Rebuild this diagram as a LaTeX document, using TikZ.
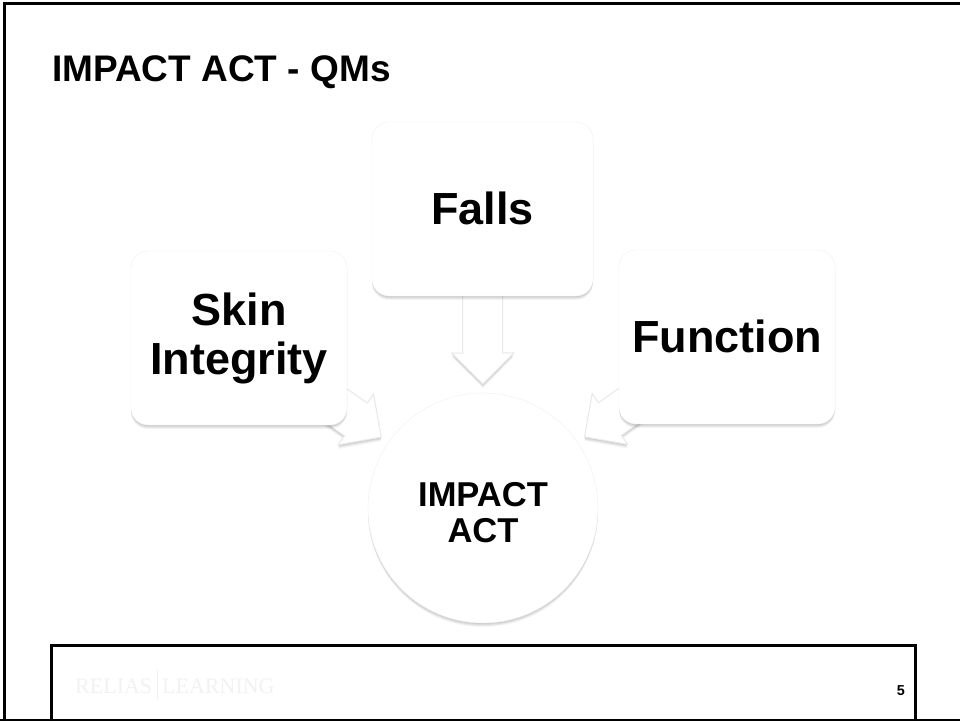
\documentclass[tikz,border=0pt]{standalone}
\usepackage{fontspec}
\setmainfont{Liberation Sans}
\newfontfamily\logofont{Liberation Serif}
\usetikzlibrary{calc, shadows, backgrounds}

\tikzset{
    softshadow/.style = {
        general shadow = {shadow yshift = -1pt, fill = black, opacity = 0.06},
        general shadow = {shadow yshift = -2pt, fill = black, opacity = 0.06},
        general shadow = {shadow yshift = -3pt, fill = black, opacity = 0.05},
        general shadow = {shadow yshift = -4pt, fill = black, opacity = 0.04}
    },
    topicbox/.style = {draw = black!6, fill = white, rounded corners = 17pt, softshadow,
        inner sep = 0pt, align = center, font = \fontsize{45}{49}\selectfont\bfseries},
    blockarrow/.style = {draw = black!9, fill = white, line width = 1pt, softshadow},
    frameline/.style = {line width = 3pt, black}
}

% shaft hidden under the box, tip just short of the circle
\newcommand{\blockarrow}[2]{
    \coordinate (tip) at ($(#2)!124pt!(#1)$);
    \coordinate (neck) at ($(tip)!31pt!(#1)$);
    \draw[blockarrow] ($(#1)!20pt!90:(tip)$) -- ($(neck)!20pt!90:(tip)$) -- ($(neck)!31pt!90:(tip)$)
        -- (tip) -- ($(neck)!31pt!-90:(tip)$) -- ($(neck)!20pt!-90:(tip)$) -- ($(#1)!20pt!-90:(tip)$) -- cycle;
}

\begin{document}
\begin{tikzpicture}[x = 1pt, y = -1pt] % Quality measures slide
    \useasboundingbox (0, 0) rectangle (960, 721);

    % Slide frame
    \draw[frameline] (4.5, 721) -- (4.5, 3.5) -- (960, 3.5);
    \draw[line width = 1.5pt] (0, 720) -- (960, 720);
    \draw[frameline] (51, 721) -- (51, 645) -- (915, 645) -- (915, 721);

    % Title
    \node[anchor = base west, inner sep = 0pt, font = \fontsize{37}{40}\selectfont\bfseries] (title) at (52, 81) {IMPACT ACT - QMs};

    % Measures
    \node[topicbox, minimum width = 221pt, minimum height = 174pt] (falls) at (482.5, 209) {\raisebox{2pt}{Falls}};
    \node[topicbox, minimum width = 216pt, minimum height = 174pt] (skin) at (239, 338) {Skin\\Integrity};
    \node[topicbox, minimum width = 216pt, minimum height = 174pt] (function) at (727, 337) {\raisebox{2pt}{Function}};
    \node[circle, draw = black!6, fill = white, minimum size = 230pt, inner sep = 0pt, softshadow] (impact) at (483, 508) {};
    \node[align = center, inner sep = 0pt, font = \fontsize{34.5}{36}\selectfont\bfseries] (impacttext) at (483, 513) {IMPACT\\ACT};

    % Arrows
    \begin{scope}[on background layer]
        \fill[white] (0, 0) rectangle (960, 721);
        \blockarrow{skin}{impact}
        \blockarrow{falls}{impact}
        \blockarrow{function}{impact}
    \end{scope}

    % Footer
    \node[anchor = base west, inner sep = 0pt, black!5, font = \logofont\fontsize{22}{22}\selectfont] (relias) at (75, 693) {RELIAS};
    \node[anchor = base west, inner sep = 0pt, black!5, font = \logofont\fontsize{22}{22}\selectfont] (learning) at (162, 693) {LEARNING};
    \draw[black!6] (157.5, 670) -- (157.5, 700);
    \node[anchor = base east, inner sep = 0pt, font = \fontsize{14.4}{16}\selectfont\bfseries] (page) at (905, 695) {5};
\end{tikzpicture}
\end{document}
